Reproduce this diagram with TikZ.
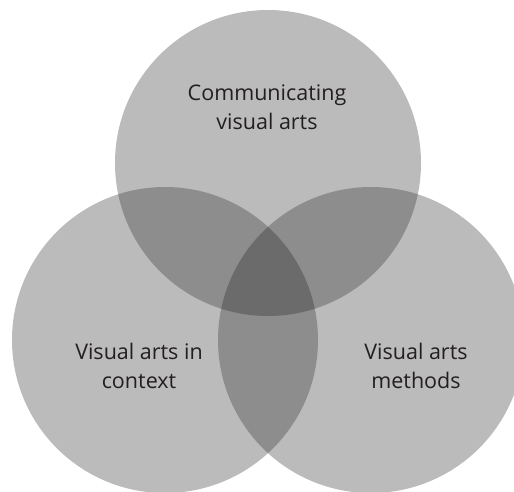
\documentclass[tikz,border=0pt]{standalone}
\usepackage{fontspec}
\setmainfont{Open Sans}
\definecolor{one}{HTML}{BBBBBB}
\definecolor{two}{HTML}{8E8D8D}
\definecolor{three}{HTML}{6C6B6B}
\definecolor{txt}{HTML}{231F20}
\begin{document}
\begin{tikzpicture}[x=1pt,y=-1pt,
  lbl/.style={align=center,text=txt,font=\fontsize{21.5}{28.5}\selectfont}]
\useasboundingbox (0,0) rectangle (514,491);
\def\R{153}
\coordinate (T) at (268,163);
\coordinate (L) at (165,340);
\coordinate (Q) at (371,340);
\clip (0,0) rectangle (514,491);
\fill[one] (T) circle (\R);
\fill[one] (L) circle (\R);
\fill[one] (Q) circle (\R);
\begin{scope}
  \clip (T) circle (\R);
  \fill[two] (L) circle (\R);
  \fill[two] (Q) circle (\R);
\end{scope}
\begin{scope}
  \clip (L) circle (\R);
  \fill[two] (Q) circle (\R);
  \clip (Q) circle (\R);
  \fill[three] (T) circle (\R);
\end{scope}
\node[lbl] (t1) at (267,107) {Communicating\\visual arts};
\node[lbl] (t2) at (139,366) {Visual arts in\\context};
\node[lbl] (t3) at (416,366) {Visual arts\\methods};
\end{tikzpicture}
\end{document}
